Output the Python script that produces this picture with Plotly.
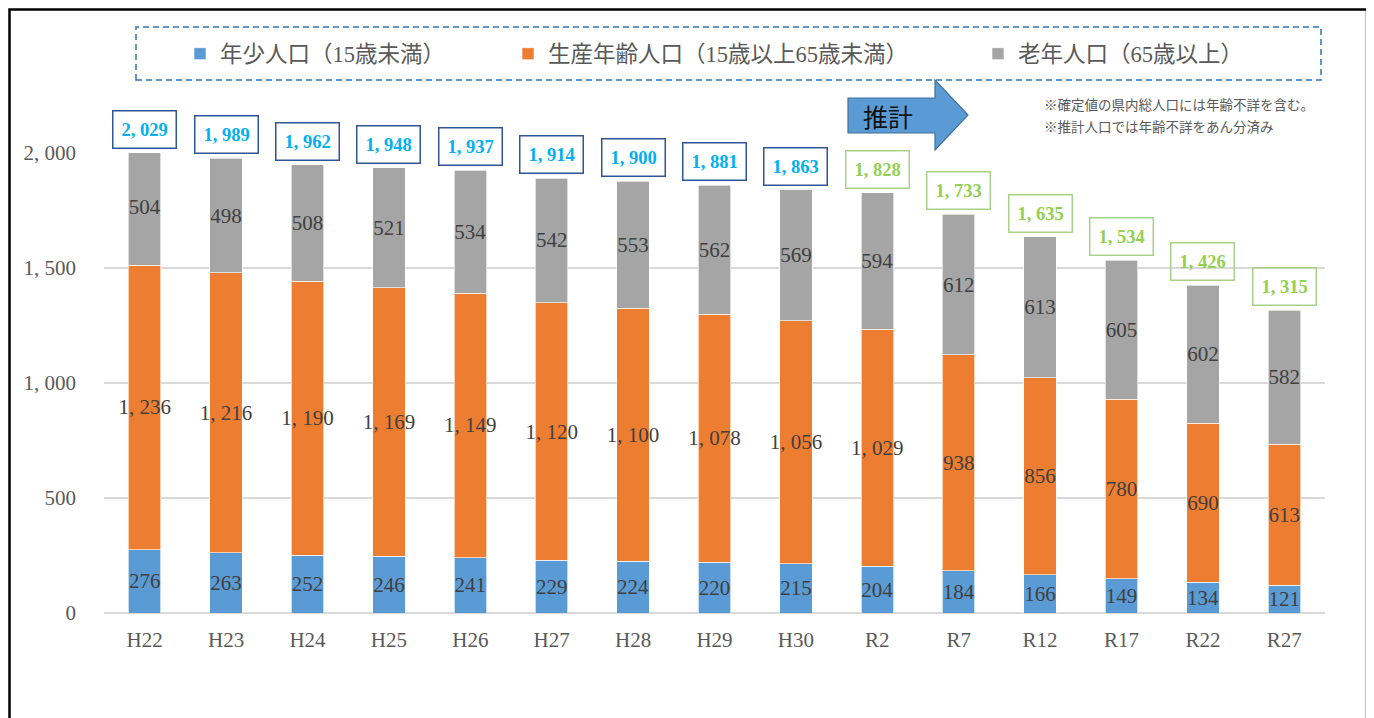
import plotly.graph_objects as go

categories = ["H22", "H23", "H24", "H25", "H26", "H27", "H28", "H29", "H30",
              "R2", "R7", "R12", "R17", "R22", "R27"]
young = [276, 263, 252, 246, 241, 229, 224, 220, 215, 204, 184, 166, 149, 134, 121]
working = [1236, 1216, 1190, 1169, 1149, 1120, 1100, 1078, 1056, 1029, 938, 856, 780, 690, 613]
elderly = [504, 498, 508, 521, 534, 542, 553, 562, 569, 594, 612, 613, 605, 602, 582]
totals = [2029, 1989, 1962, 1948, 1937, 1914, 1900, 1881, 1863, 1828, 1733, 1635, 1534, 1426, 1315]
n_confirmed = 9  # H22..H30 confirmed, rest estimated
series_names = ["年少人口（15歳未満）", "生産年齢人口（15歳以上65歳未満）", "老年人口（65歳以上）"]
y_ticks = [0, 500, 1000, 1500, 2000]
note_lines = ["※確定値の県内総人口には年齢不詳を含む。", "※推計人口では年齢不詳をあん分済み"]
arrow_label = "推計"

W, H = 1374, 718
OFF = 8  # page body margin: figure sits 8px right/down in the page
L, R, T, B = 96, 57, 145, 113
PW, PH = W - L - R, H - T - B


def px(x):
    """reference-page x pixel -> paper x"""
    return (x - OFF - L) / PW


def py(y):
    """reference-page y pixel -> paper y"""
    return (H - B - (y - OFF)) / PH


def fmt(v):
    return f"{v:,}".replace(",", ", ")


SERIF = "Liberation Serif, Noto Sans CJK JP, serif"
colors = ["#5B9BD5", "#ED7D31", "#A5A5A5"]

fig = go.Figure()
for i, (name, vals, col) in enumerate(zip(series_names, [young, working, elderly], colors)):
    fig.add_trace(go.Bar(
        x=categories, y=vals, name=name,
        marker=dict(color=col, line=dict(color="rgba(255,255,255,0.8)", width=0.8)),
        text=[fmt(v) for v in vals], textposition="inside", insidetextanchor="middle",
        textangle=0, constraintext="none",
        textfont=dict(family=SERIF, size=21, color="#404040"),
        legend="legend" if i == 0 else f"legend{i + 1}",
        hoverinfo="skip",
    ))

stack_tops = [a + b + c for a, b, c in zip(young, working, elderly)]
for i, (cat, top, tot) in enumerate(zip(categories, stack_tops, totals)):
    confirmed = i < n_confirmed
    fig.add_annotation(
        x=cat, y=min(top, 2000), yanchor="bottom", yshift=4,
        text=f"<b>{fmt(tot)}</b>", showarrow=False,
        font=dict(family="Liberation Serif, serif", size=18.5,
                  color="#00B0F0" if confirmed else "#92D050"),
        bordercolor="#2F5597" if confirmed else "#A9D18E",
        borderwidth=1.5, borderpad=8,
    )

# notes
for k, line in enumerate(note_lines):
    fig.add_annotation(
        xref="paper", yref="paper", x=px(1042), y=py(104 + 22 * k),
        xanchor="left", yanchor="middle", text=line, showarrow=False,
        font=dict(family="Noto Sans CJK JP", size=13.5, color="#595959"),
    )

# arrow
pts = [(848, 98), (935, 98), (935, 80), (968, 115), (935, 150), (935, 133), (848, 133)]
path = "M " + " L ".join(f"{px(a)},{py(b)}" for a, b in pts) + " Z"
fig.add_shape(type="path", xref="paper", yref="paper", path=path,
              fillcolor="#5B9BD5", line=dict(color="#41719C", width=1.2), layer="above")
fig.add_annotation(xref="paper", yref="paper", x=px(888), y=py(116), yanchor="middle",
                   xanchor="center", text=arrow_label, showarrow=False,
                   font=dict(family="Noto Sans CJK JP", size=25, color="#111111"))

# legend dashed box
fig.add_shape(type="rect", xref="paper", yref="paper",
              x0=px(136), x1=px(1321), y0=py(80), y1=py(27),
              line=dict(color="#2E75B6", width=1.5, dash="6px,4px"))
# outer frame
fig.add_shape(type="rect", xref="paper", yref="paper",
              x0=px(9.5), x1=px(1367), y0=py(760), y1=py(9.5),
              line=dict(color="#000000", width=2.5))

leg_common = dict(orientation="h", yanchor="middle", xanchor="left", y=py(54),
                  font=dict(family=SERIF, size=22.5, color="#595959"),
                  bgcolor="rgba(0,0,0,0)", itemwidth=30)
legend_x = [180, 508, 978]

fig.update_layout(
    width=W, height=H,
    margin=dict(l=L, r=R, t=T, b=B, autoexpand=False),
    paper_bgcolor="white", plot_bgcolor="white",
    barmode="stack", bargap=0.6,
    showlegend=True,
    legend=dict(x=px(legend_x[0]), **leg_common),
    legend2=dict(x=px(legend_x[1]), **leg_common),
    legend3=dict(x=px(legend_x[2]), **leg_common),
    xaxis=dict(tickfont=dict(family=SERIF, size=21, color="#595959"),
               showgrid=False, showline=False, ticks="", ticklabelstandoff=12),
    yaxis=dict(range=[0, 2000], tickvals=y_ticks, ticktext=[fmt(v) for v in y_ticks],
               tickfont=dict(family=SERIF, size=21, color="#595959"),
               showgrid=True, gridcolor="#D9D9D9", gridwidth=1.5,
               zeroline=True, zerolinecolor="#D9D9D9", zerolinewidth=2,
               showline=False, ticks="", ticklabelstandoff=27),
)

fig.write_html("out.html")
